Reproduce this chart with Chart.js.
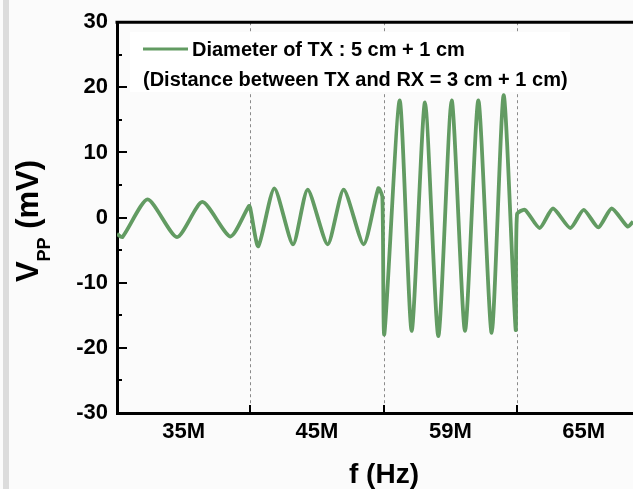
<!DOCTYPE html>
<html>
<head>
<meta charset="utf-8">
<script src="https://cdn.jsdelivr.net/npm/chart.js@4.4.1/dist/chart.umd.min.js"></script>
<style>
  html, body { margin: 0; padding: 0; background: #fbfbfb; }
  #wrap { position: relative; width: 633px; height: 489px; }
  #strip { position: absolute; left: 3px; top: 0; width: 6px; height: 489px; background: #dcdcdc; }
</style>
</head>
<body>
<div id="wrap">
  <div id="strip"></div>
  <canvas id="chart"></canvas>
</div>
<script>
// Frequency position across the four sweep windows (1 unit = one window)
const FREQ = [
  0.00, 0.04, 0.23, 0.45, 0.64, 0.85, 0.99,
  1.00, 1.06, 1.18, 1.32, 1.43, 1.58, 1.70, 1.85, 1.96, 1.99,
  2.005, 2.12, 2.21, 2.31, 2.41, 2.51, 2.61, 2.71, 2.81, 2.90, 2.99,
  3.00, 3.06, 3.17, 3.27, 3.40, 3.50, 3.61, 3.71, 3.83, 3.87,
];
// Measured peak-to-peak voltage (mV)
const VPP = [
  -2.5, -3.0, 2.8, -3.0, 2.4, -2.9, 1.8,
  1.4, -4.4, 4.5, -4.1, 4.3, -4.1, 4.3, -4.1, 4.5, 3.2,
  -17.9, 18.0, -17.4, 17.7, -18.2, 18.0, -17.4, 18.0, -17.7, 18.8, -17.2,
  0.5, 1.2, -1.6, 1.4, -1.6, 1.2, -1.5, 1.4, -1.4, -0.6,
];
const X_LABELS = ['35M', '45M', '59M', '65M'];
const X_LABEL_POS = [0.5, 1.5, 2.5, 3.5];
const SEPARATORS = [1, 2, 3];
const X_MAX = 3.87;
const Y_MIN = -30, Y_MAX = 30, Y_STEP = 10;
const LEGEND_LINE1 = 'Diameter of TX : 5 cm + 1 cm';
const LEGEND_LINE2 = '(Distance between TX and RX = 3 cm + 1 cm)';

const FONT = "'Liberation Sans', Arial, Helvetica, sans-serif";
const GREEN = '#629b62';

function seg(ctx, x1, y1, x2, y2) {
  ctx.beginPath();
  ctx.moveTo(x1, y1);
  ctx.lineTo(x2, y2);
  ctx.stroke();
}

const decor = {
  id: 'decor',
  beforeDatasetsDraw(chart) {
    const { ctx, chartArea: a, scales: { x } } = chart;
    ctx.save();
    // dotted window separators
    ctx.strokeStyle = '#8a8a8a';
    ctx.lineWidth = 1;
    ctx.setLineDash([3, 3]);
    SEPARATORS.forEach((v) => {
      const px = Math.round(x.getPixelForValue(v)) + 0.5;
      seg(ctx, px, a.top, px, a.bottom);
    });
    ctx.setLineDash([]);
    // legend box
    ctx.fillStyle = '#ffffff';
    ctx.fillRect(130, 32, 440, 60);
    ctx.strokeStyle = GREEN;
    ctx.lineWidth = 3;
    seg(ctx, 143, 49, 188, 49);
    ctx.fillStyle = '#000';
    ctx.font = `bold 20px ${FONT}`;
    ctx.textBaseline = 'alphabetic';
    ctx.textAlign = 'left';
    ctx.fillText(LEGEND_LINE1, 192, 56);
    ctx.fillText(LEGEND_LINE2, 143, 86);
    ctx.restore();
  },
  afterDraw(chart) {
    const { ctx, chartArea: a, scales: { x, y } } = chart;
    ctx.save();
    ctx.strokeStyle = '#000';
    ctx.lineWidth = 3;
    seg(ctx, a.left - 1.5, a.top, a.right, a.top);
    // inward ticks
    ctx.lineWidth = 2;
    for (let v = Y_MIN + 5; v < Y_MAX; v += 5) {
      const py = Math.round(y.getPixelForValue(v));
      seg(ctx, a.left, py, a.left + (v % 10 === 0 ? 10 : 5), py);
    }
    SEPARATORS.forEach((v) => {
      const px = Math.round(x.getPixelForValue(v));
      seg(ctx, px, a.bottom, px, a.bottom - 8);
    });
    // axis titles
    ctx.fillStyle = '#000';
    ctx.textBaseline = 'alphabetic';
    ctx.textAlign = 'center';
    ctx.font = `bold 28px ${FONT}`;
    ctx.fillText('f (Hz)', 384, 483);

    ctx.textAlign = 'left';
    const big = `bold 31px ${FONT}`, small = `bold 18px ${FONT}`;
    ctx.font = big;
    const wV = ctx.measureText('V').width;
    const wU = ctx.measureText(' (mV)').width;
    ctx.font = small;
    const wP = ctx.measureText('PP').width;
    const total = wV + wP + wU;
    ctx.translate(38, 221 + total / 2);
    ctx.rotate(-Math.PI / 2);
    ctx.font = big;
    ctx.fillText('V', 0, 0);
    ctx.font = small;
    ctx.fillText('PP', wV, 12);
    ctx.font = big;
    ctx.fillText(' (mV)', wV + wP, 0);
    ctx.restore();
  },
};

new Chart(document.getElementById('chart').getContext('2d'), {
  type: 'line',
  data: {
    datasets: [{
      data: FREQ.map((f, i) => ({ x: f, y: VPP[i] })),
      borderColor: GREEN,
      borderWidth: 3.8,
      pointRadius: 0,
      tension: 0.22,
      fill: false,
    }],
  },
  options: {
    responsive: true,
    maintainAspectRatio: false,
    animation: false,
    layout: { padding: { top: 20, right: 0, left: 0, bottom: 0 } },
    plugins: { legend: { display: false }, tooltip: { enabled: false } },
    scales: {
      x: {
        type: 'linear',
        min: 0,
        max: X_MAX,
        afterBuildTicks: (s) => { s.ticks = X_LABEL_POS.map((v) => ({ value: v })); },
        afterFit: (s) => { s.height = 76; },
        grid: { display: false, drawTicks: false },
        border: { display: true, color: '#000', width: 3 },
        ticks: {
          callback: (v, i) => X_LABELS[i],
          font: { family: FONT, size: 22, weight: 'bold' },
          color: '#000',
          maxRotation: 0,
          autoSkip: false,
          padding: 6,
        },
      },
      y: {
        min: Y_MIN,
        max: Y_MAX,
        afterFit: (s) => { s.width = 117; },
        grid: { display: false, drawTicks: false },
        border: { display: true, color: '#000', width: 3 },
        ticks: {
          stepSize: Y_STEP,
          font: { family: FONT, size: 22, weight: 'bold' },
          color: '#000',
          padding: 9,
        },
      },
    },
  },
  plugins: [decor],
});
</script>
</body>
</html>
